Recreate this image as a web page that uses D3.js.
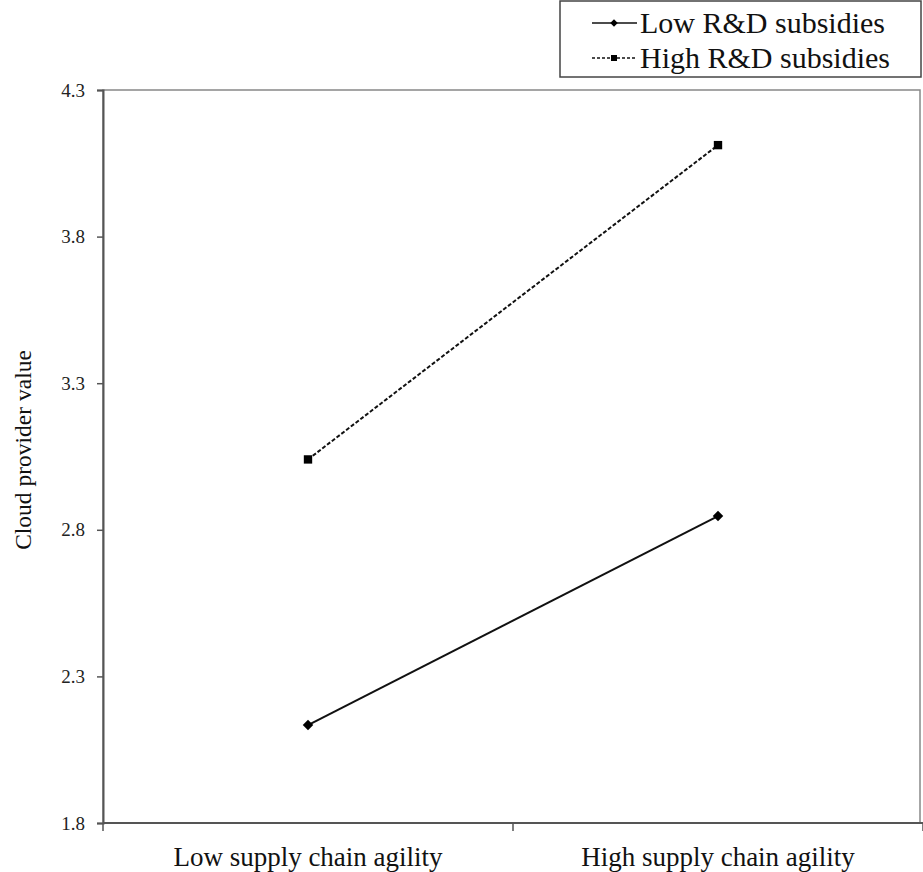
<!DOCTYPE html>
<html>
<head>
<meta charset="utf-8">
<script src="https://cdn.jsdelivr.net/npm/d3@7"></script>
<style>
  body { margin: 0; background: #fff; }
  svg text { font-family: "Liberation Serif", "Times New Roman", "DejaVu Serif", serif; }
</style>
</head>
<body>
<div id="chart"></div>
<script>
const categories = ["Low supply chain agility", "High supply chain agility"];
const seriesNames = ["Low R&D subsidies", "High R&D subsidies"];
const lowValues = [2.134, 2.847];
const highValues = [3.040, 4.112];
const yTicks = [1.8, 2.3, 2.8, 3.3, 3.8, 4.3];

const width = 923, height = 872;
const mLeft = 103, mRight = 920, mTop = 90, mBottom = 823;

const svg = d3.select("#chart")
  .append("svg")
  .attr("width", width)
  .attr("height", height);

// echelles
const xScale = d3.scaleBand()
  .domain(categories)
  .range([mLeft, mRight + 3]);

const yScale = d3.scaleLinear()
  .domain([1.8, 4.3])
  .range([mBottom, mTop]);

// cadre
svg.append("rect")
  .attr("x", mLeft)
  .attr("y", mTop)
  .attr("width", mRight - mLeft)
  .attr("height", mBottom - mTop)
  .attr("fill", "none")
  .attr("stroke", "#888")
  .attr("stroke-width", 1.5);

// axe y
const yAxis = svg.append("g")
  .attr("transform", `translate(${mLeft},0)`)
  .call(d3.axisLeft(yScale).tickValues(yTicks).tickFormat(d3.format(".1f")).tickSize(6).tickPadding(12));
yAxis.select(".domain").attr("stroke", "#555").attr("stroke-width", 2);
yAxis.selectAll(".tick line").attr("stroke", "#555").attr("stroke-width", 1.5);
yAxis.selectAll("text").style("font-size", "19px").attr("fill", "#222");

// axe x
const xTickPos = [mLeft, (mLeft + mRight + 3) / 2, mRight + 3];
const xAxis = svg.append("g").attr("transform", `translate(0,${mBottom})`);
xAxis.append("line")
  .attr("x1", mLeft).attr("x2", mRight + 3)
  .attr("stroke", "#555").attr("stroke-width", 2);
xAxis.selectAll("line.tk")
  .data(xTickPos)
  .join("line")
  .attr("class", "tk")
  .attr("x1", d => d).attr("x2", d => d)
  .attr("y1", 0).attr("y2", 8)
  .attr("stroke", "#555").attr("stroke-width", 1.5);
xAxis.selectAll("text")
  .data(categories)
  .join("text")
  .attr("x", d => xScale(d) + xScale.bandwidth() / 2)
  .attr("y", 43)
  .attr("text-anchor", "middle")
  .style("font-size", "27px")
  .attr("fill", "#111")
  .text(d => d);

// titre axe y
svg.append("text")
  .attr("transform", "rotate(-90)")
  .attr("x", -450)
  .attr("y", 31)
  .attr("text-anchor", "middle")
  .style("font-size", "23.5px")
  .attr("fill", "#111")
  .text("Cloud provider value");

// lignes
const line = d3.line()
  .x((d, i) => xScale(categories[i]) + xScale.bandwidth() / 2)
  .y(d => yScale(d));

svg.append("path")
  .datum(lowValues)
  .attr("fill", "none")
  .attr("stroke", "#111")
  .attr("stroke-width", 2)
  .attr("d", line);

svg.append("path")
  .datum(highValues)
  .attr("fill", "none")
  .attr("stroke", "#111")
  .attr("stroke-width", 2)
  .attr("stroke-dasharray", "4,2")
  .attr("d", line);

const diamond = d3.symbol().type(d3.symbolDiamond2).size(70);
const square = d3.symbol().type(d3.symbolSquare).size(70);

svg.selectAll("path.low")
  .data(lowValues)
  .join("path")
  .attr("class", "low")
  .attr("transform", (d, i) => `translate(${xScale(categories[i]) + xScale.bandwidth() / 2},${yScale(d)})`)
  .attr("d", diamond)
  .attr("fill", "#000");

svg.selectAll("path.high")
  .data(highValues)
  .join("path")
  .attr("class", "high")
  .attr("transform", (d, i) => `translate(${xScale(categories[i]) + xScale.bandwidth() / 2},${yScale(d)})`)
  .attr("d", square)
  .attr("fill", "#000");

// legende
const legend = svg.append("g");
legend.append("rect")
  .attr("x", 560).attr("y", 1)
  .attr("width", 361).attr("height", 76)
  .attr("fill", "#fff")
  .attr("stroke", "#444")
  .attr("stroke-width", 1.5);

const legendItems = legend.selectAll("g")
  .data(seriesNames)
  .join("g")
  .attr("transform", (d, i) => `translate(0,${23 + i * 35})`);

legendItems.append("line")
  .attr("x1", 592).attr("x2", 637)
  .attr("stroke", "#111")
  .attr("stroke-width", 1.5)
  .attr("stroke-dasharray", (d, i) => i === 0 ? null : "3,2");

legendItems.append("path")
  .attr("transform", "translate(614,0)")
  .attr("d", (d, i) => i === 0 ? d3.symbol().type(d3.symbolDiamond2).size(36)() : d3.symbol().type(d3.symbolSquare).size(36)())
  .attr("fill", "#000");

legendItems.append("text")
  .attr("x", 640)
  .attr("y", 10)
  .style("font-size", "30px")
  .attr("fill", "#111")
  .text(d => d);
</script>
</body>
</html>
